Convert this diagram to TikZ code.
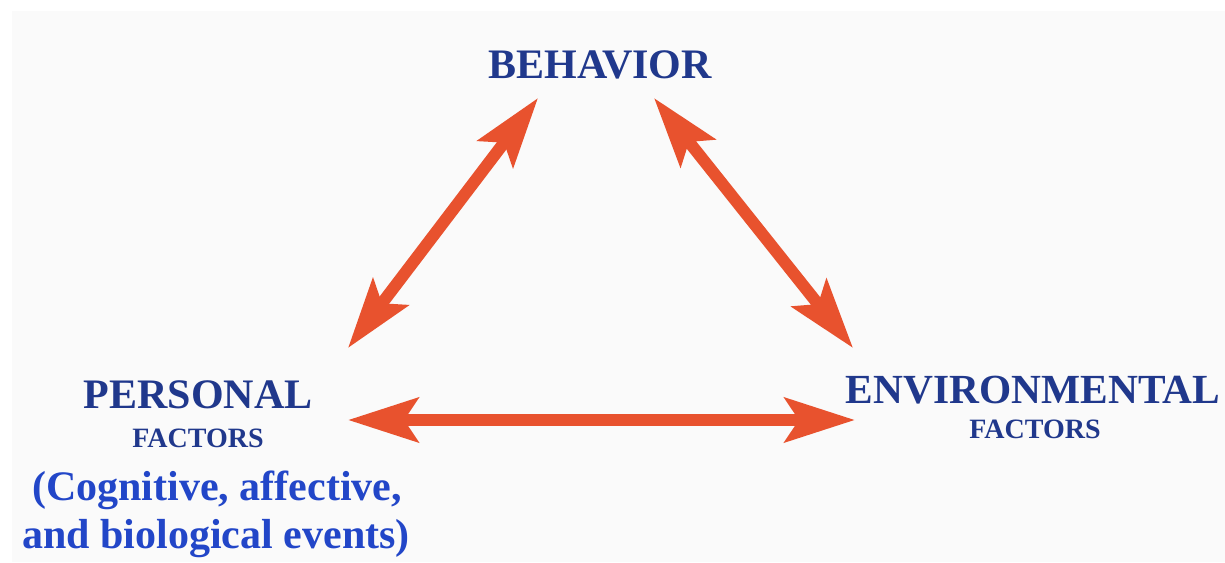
\documentclass[tikz,border=0pt]{standalone}
\usepackage{fontspec}
\setmainfont{Liberation Serif}
\usetikzlibrary{arrows.meta}
\definecolor{titleblue}{RGB}{32,56,140}
\definecolor{noteblue}{RGB}{34,70,200}
\definecolor{linkred}{RGB}{232,82,46}
\definecolor{panelgray}{RGB}{250,250,250}

\begin{document}
\begin{tikzpicture}[x=1pt,y=-1pt,
    label/.style={inner sep=0pt,anchor=base,text=titleblue,font=\bfseries\fontsize{42}{48}\selectfont},
    small/.style={label,font=\bfseries\fontsize{28}{32}\selectfont},
    note/.style={label,text=noteblue},
    link/.style={draw=linkred,line width=12pt,
        {Stealth[length=70pt,width=44pt,inset=14pt]}-{Stealth[length=70pt,width=44pt,inset=14pt]}}]%
        \useasboundingbox (0,0) rectangle (1225,562);
        \fill[panelgray] (12,11) rectangle (1225,562);
        \node[label] (behav) at (600,78) {BEHAVIOR};
        \node[label] (pers) at (198,408) {PERSONAL};
        \node[small] (persf) at (198,447) {FACTORS};
        \node[note] (cog) at (217,500) {(Cognitive, affective,};
        \node[note] (bio) at (216,548) {and biological events)};
        \node[label,font=\bfseries\fontsize{41.4}{48}\selectfont] (env) at (1033,403) {ENVIRONMENTAL};
        \node[small] (envf) at (1035,438) {FACTORS};
        \coordinate (behL) at (538,98);
        \coordinate (behR) at (654,98);
        \coordinate (persT) at (348,348);
        \coordinate (persR) at (348,420);
        \coordinate (envT) at (853,348);
        \coordinate (envL) at (855,420);
        \draw[link] (persT) -- (behL);
        \draw[link] (behR) -- (envT);
        \draw[link] (persR) -- (envL);
    \end{tikzpicture}
\end{document}
